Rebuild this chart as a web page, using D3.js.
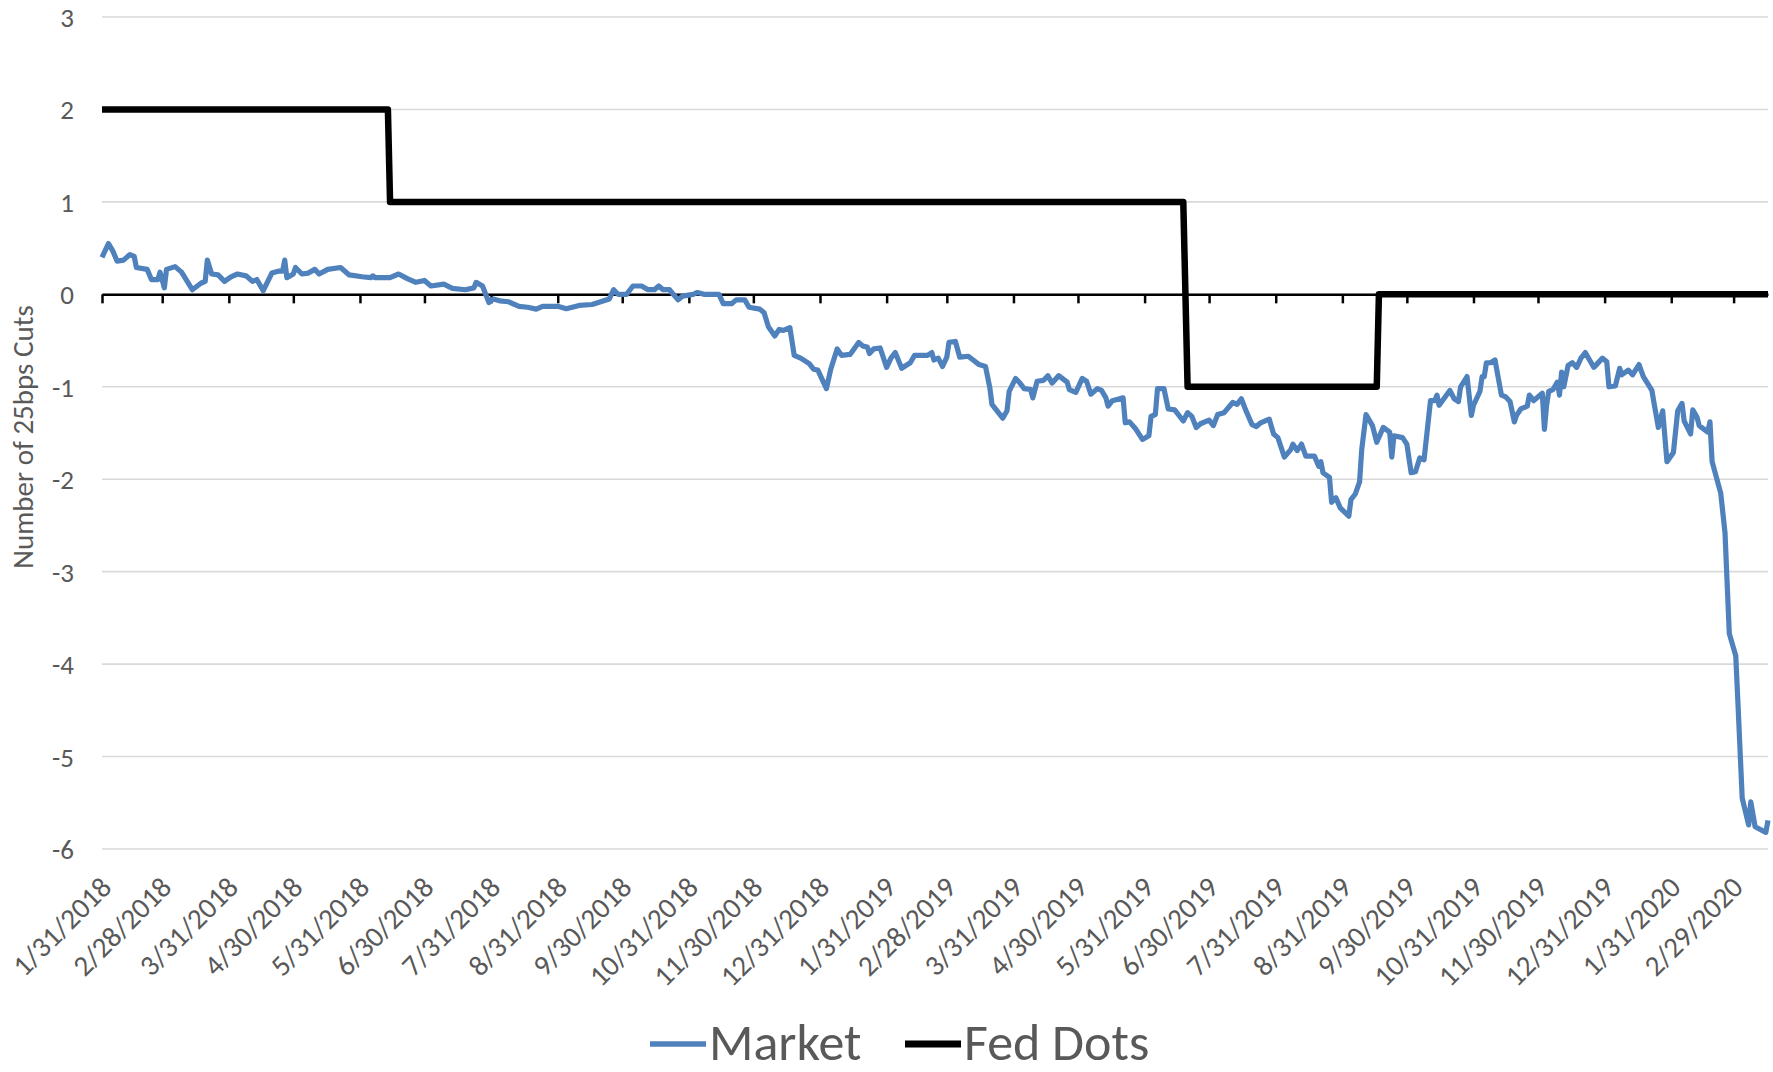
<!DOCTYPE html>
<html lang="en">
<head>
<meta charset="utf-8">
<title>Market vs Fed Dots</title>
<script src="https://cdn.jsdelivr.net/npm/d3@7"></script>
<style>
  body { margin: 0; background: #fff; }
  svg text { font-family: Carlito, Calibri, "Open Sans", sans-serif; fill: #595959; }
</style>
</head>
<body>
<script>
// x axis labels (month ends)
var tickLabels = ["1/31/2018","2/28/2018","3/31/2018","4/30/2018","5/31/2018","6/30/2018",
  "7/31/2018","8/31/2018","9/30/2018","10/31/2018","11/30/2018","12/31/2018",
  "1/31/2019","2/28/2019","3/31/2019","4/30/2019","5/31/2019","6/30/2019",
  "7/31/2019","8/31/2019","9/30/2019","10/31/2019","11/30/2019","12/31/2019",
  "1/31/2020","2/29/2020"];
var yTicks = [3, 2, 1, 0, -1, -2, -3, -4, -5, -6];

// Market implied number of 25bp cuts
var marketDates = [
  "2018-01-31","2018-02-03","2018-02-05","2018-02-07","2018-02-10","2018-02-13","2018-02-15","2018-02-16","2018-02-21","2018-02-23","2018-02-26","2018-02-27",
  "2018-03-01","2018-03-02","2018-03-06","2018-03-09","2018-03-14","2018-03-18","2018-03-20","2018-03-21","2018-03-23","2018-03-26","2018-03-29",
  "2018-04-01","2018-04-04","2018-04-08","2018-04-11","2018-04-13","2018-04-16","2018-04-20","2018-04-23","2018-04-25","2018-04-26","2018-04-27","2018-04-30",
  "2018-05-01","2018-05-04","2018-05-07","2018-05-10","2018-05-12","2018-05-16","2018-05-22","2018-05-26",
  "2018-06-01","2018-06-05","2018-06-06","2018-06-07","2018-06-14","2018-06-18","2018-06-22","2018-06-26","2018-06-30",
  "2018-07-03","2018-07-09","2018-07-13","2018-07-19","2018-07-23","2018-07-24","2018-07-27","2018-07-30",
  "2018-08-01","2018-08-04","2018-08-08","2018-08-13","2018-08-17","2018-08-21","2018-08-24","2018-08-26","2018-08-31",
  "2018-09-04","2018-09-10","2018-09-16","2018-09-20","2018-09-24","2018-09-26","2018-09-28",
  "2018-10-02","2018-10-05","2018-10-09","2018-10-12","2018-10-15","2018-10-17","2018-10-19","2018-10-22","2018-10-26","2018-10-28",
  "2018-11-02","2018-11-04","2018-11-07","2018-11-14","2018-11-16","2018-11-20","2018-11-22","2018-11-26","2018-11-28",
  "2018-12-03","2018-12-05","2018-12-07","2018-12-10","2018-12-12","2018-12-14","2018-12-17","2018-12-19","2018-12-22","2018-12-26","2018-12-28","2018-12-30",
  "2019-01-03","2019-01-05","2019-01-08","2019-01-10","2019-01-14","2019-01-18","2019-01-20","2019-01-22","2019-01-23","2019-01-25","2019-01-28","2019-01-31",
  "2019-02-02","2019-02-04","2019-02-07","2019-02-11","2019-02-13","2019-02-19","2019-02-21","2019-02-22","2019-02-24","2019-02-26","2019-02-28",
  "2019-03-01","2019-03-04","2019-03-06","2019-03-10","2019-03-15","2019-03-18","2019-03-20","2019-03-21","2019-03-24","2019-03-26","2019-03-28","2019-03-29",
  "2019-04-01","2019-04-03","2019-04-05","2019-04-08","2019-04-09","2019-04-11","2019-04-14","2019-04-16","2019-04-18","2019-04-21","2019-04-25","2019-04-26","2019-04-29",
  "2019-05-02","2019-05-04","2019-05-06","2019-05-09","2019-05-11","2019-05-13","2019-05-14","2019-05-16","2019-05-21","2019-05-22","2019-05-24","2019-05-27","2019-05-30",
  "2019-06-02","2019-06-03","2019-06-05","2019-06-06","2019-06-09","2019-06-11","2019-06-14","2019-06-18","2019-06-20","2019-06-22","2019-06-24","2019-06-26","2019-06-30",
  "2019-07-02","2019-07-04","2019-07-07","2019-07-11","2019-07-13","2019-07-15","2019-07-17","2019-07-20","2019-07-22","2019-07-24","2019-07-28","2019-07-30",
  "2019-08-01","2019-08-04","2019-08-07","2019-08-08","2019-08-10","2019-08-12","2019-08-14","2019-08-18","2019-08-20","2019-08-21","2019-08-22","2019-08-25","2019-08-26","2019-08-28","2019-08-30",
  "2019-09-03","2019-09-04","2019-09-06","2019-09-08","2019-09-09","2019-09-11","2019-09-14","2019-09-16","2019-09-19","2019-09-22","2019-09-23","2019-09-24","2019-09-28","2019-09-30",
  "2019-10-02","2019-10-04","2019-10-06","2019-10-08","2019-10-11","2019-10-13","2019-10-14","2019-10-15","2019-10-20","2019-10-22","2019-10-24","2019-10-25","2019-10-28","2019-10-30","2019-10-31",
  "2019-11-03","2019-11-04","2019-11-05","2019-11-06","2019-11-08","2019-11-10","2019-11-13","2019-11-15","2019-11-17","2019-11-19","2019-11-20","2019-11-22","2019-11-25","2019-11-26","2019-11-28","2019-11-29",
  "2019-12-02","2019-12-03","2019-12-04","2019-12-05","2019-12-07","2019-12-09","2019-12-10","2019-12-11","2019-12-12","2019-12-14","2019-12-16","2019-12-18","2019-12-20","2019-12-22","2019-12-24","2019-12-26","2019-12-30",
  "2020-01-01","2020-01-02","2020-01-05","2020-01-07","2020-01-08","2020-01-11","2020-01-13","2020-01-16","2020-01-18","2020-01-22","2020-01-23","2020-01-25","2020-01-27","2020-01-29",
  "2020-02-01","2020-02-03","2020-02-05","2020-02-06","2020-02-09","2020-02-10","2020-02-12","2020-02-13","2020-02-17","2020-02-18","2020-02-19","2020-02-23","2020-02-25","2020-02-27",
  "2020-03-01","2020-03-02","2020-03-04","2020-03-07","2020-03-08","2020-03-10","2020-03-15","2020-03-16"
];
var marketValues = [
  0.40,0.55,0.47,0.36,0.37,0.43,0.41,0.29,0.27,0.16,0.16,0.24,
  0.07,0.27,0.30,0.24,0.05,0.12,0.14,0.37,0.22,0.21,0.14,
  0.19,0.22,0.20,0.14,0.16,0.04,0.23,0.25,0.25,0.37,0.18,0.22,
  0.29,0.22,0.23,0.27,0.22,0.27,0.29,0.21,
  0.19,0.18,0.20,0.18,0.18,0.22,0.17,0.13,0.15,
  0.09,0.11,0.065,0.05,0.07,0.13,0.09,-0.09,
  -0.05,-0.07,-0.08,-0.13,-0.14,-0.16,-0.13,-0.13,-0.13,
  -0.155,-0.12,-0.11,-0.08,-0.05,0.05,0.0,
  0.0,0.09,0.09,0.05,0.05,0.09,0.05,0.05,-0.06,-0.02,
  0.0,0.02,0.0,0.0,-0.10,-0.10,-0.06,-0.06,-0.14,
  -0.16,-0.20,-0.35,-0.45,-0.38,-0.39,-0.36,-0.66,-0.69,-0.75,-0.81,-0.82,
  -1.02,-0.81,-0.59,-0.66,-0.65,-0.52,-0.56,-0.57,-0.64,-0.59,-0.58,-0.79,
  -0.69,-0.63,-0.80,-0.74,-0.66,-0.66,-0.63,-0.71,-0.69,-0.78,-0.68,
  -0.52,-0.51,-0.68,-0.67,-0.76,-0.78,-1.01,-1.19,-1.28,-1.34,-1.26,-1.05,
  -0.91,-0.96,-1.02,-1.03,-1.12,-0.94,-0.93,-0.88,-0.96,-0.88,-0.95,-1.03,-1.06,
  -0.91,-0.94,-1.08,-1.02,-1.04,-1.12,-1.21,-1.15,-1.12,-1.39,-1.38,-1.46,-1.57,
  -1.53,-1.32,-1.30,-1.02,-1.02,-1.24,-1.25,-1.37,-1.28,-1.32,-1.44,-1.40,-1.36,
  -1.42,-1.30,-1.28,-1.17,-1.19,-1.13,-1.25,-1.41,-1.43,-1.39,-1.35,-1.51,
  -1.55,-1.76,-1.68,-1.62,-1.69,-1.62,-1.75,-1.75,-1.86,-1.81,-1.93,-1.98,-2.25,-2.20,-2.31,
  -2.40,-2.22,-2.16,-2.03,-1.68,-1.30,-1.42,-1.60,-1.44,-1.49,-1.76,-1.53,-1.55,-1.62,
  -1.93,-1.92,-1.77,-1.79,-1.15,-1.15,-1.09,-1.20,-1.04,-1.13,-1.16,-1.00,-0.89,-1.31,-1.20,
  -1.05,-0.89,-0.89,-0.74,-0.74,-0.71,-1.09,-1.11,-1.16,-1.38,-1.31,-1.24,-1.21,-1.09,-1.15,-1.13,
  -1.07,-1.46,-1.20,-1.05,-1.03,-0.95,-1.09,-0.84,-1.00,-0.77,-0.74,-0.79,-0.69,-0.63,-0.71,-0.79,-0.69,
  -0.73,-1.00,-0.99,-0.80,-0.87,-0.82,-0.87,-0.76,-0.89,-1.04,-1.18,-1.44,-1.26,-1.81,
  -1.71,-1.26,-1.18,-1.37,-1.51,-1.25,-1.33,-1.42,-1.49,-1.38,-1.81,-2.15,-2.58,-3.67,
  -3.91,-4.41,-5.45,-5.74,-5.49,-5.76,-5.82,-5.69
];

// Fed dots (median projected cuts) - step changes
var fedDates = ["2018-01-31","2018-06-13","2018-06-14","2019-06-18","2019-06-20","2019-09-16","2019-09-17","2020-03-16"];
var fedValues = [2, 2, 1, 1, -1, -1, 0, 0];

var w = 1773, h = 1072;
var plotLeft = 102, plotRight = 1768, plotTop = 17, plotBottom = 849;

var parseIso = d3.timeParse("%Y-%m-%d");
var parseTick = d3.timeParse("%m/%d/%Y");

var market = marketDates.map(function (d, i) { return { date: parseIso(d), value: marketValues[i] }; });
var fed = fedDates.map(function (d, i) { return { date: parseIso(d), value: fedValues[i] }; });
var tickDates = tickLabels.map(parseTick);

var x = d3.scaleTime()
  .domain([parseIso("2018-01-31"), parseIso("2020-03-16")])
  .range([plotLeft, plotRight]);
var y = d3.scaleLinear().domain([-6, 3]).range([plotBottom, plotTop]);

var svg = d3.select("body").append("svg")
  .attr("width", w).attr("height", h);

// horizontal gridlines
svg.append("g").selectAll("line")
  .data(yTicks)
  .enter().append("line")
  .attr("x1", plotLeft).attr("x2", plotRight)
  .attr("y1", function (d) { return y(d); })
  .attr("y2", function (d) { return y(d); })
  .attr("stroke", "#d9d9d9")
  .attr("stroke-width", 1.6);

// y axis labels (plain hyphen for negatives, like Excel)
var yAxis = d3.axisLeft(y).tickValues(yTicks).tickSize(0).tickPadding(0)
  .tickFormat(function (d) { return String(d); });
var gy = svg.append("g").attr("transform", "translate(74,0)").call(yAxis);
gy.select(".domain").remove();
gy.selectAll("text").attr("font-size", 27).attr("font-family", null).attr("dy", "0.35em").style("fill", "#595959");

// y axis title
svg.append("text")
  .attr("transform", "translate(33,437) rotate(-90)")
  .attr("text-anchor", "middle")
  .attr("font-size", 29)
  .text("Number of 25bps Cuts");

// x axis on the zero line
var xAxis = d3.axisBottom(x).tickValues(tickDates).tickSize(9).tickSizeOuter(0).tickFormat("");
var gx = svg.append("g").attr("transform", "translate(0," + y(0) + ")").call(xAxis);
gx.select(".domain").attr("stroke", "#000").attr("stroke-width", 2.5);
gx.selectAll(".tick line").attr("stroke", "#000").attr("stroke-width", 2.5);

// rotated month-end labels at the bottom
svg.append("g").selectAll("text")
  .data(tickDates)
  .enter().append("text")
  .attr("transform", function (d) { return "translate(" + (x(d) + 4) + ",882) rotate(-45)"; })
  .attr("text-anchor", "end")
  .attr("dominant-baseline", "central")
  .attr("font-size", 29)
  .text(function (d, i) { return tickLabels[i]; });

var line = d3.line()
  .x(function (d) { return x(d.date); })
  .y(function (d) { return y(d.value); });

svg.append("path")
  .datum(market)
  .attr("fill", "none")
  .attr("stroke", "#4f81bd")
  .attr("stroke-width", 5.2)
  .attr("stroke-linejoin", "round")
  .attr("d", line);

svg.append("path")
  .datum(fed)
  .attr("fill", "none")
  .attr("stroke", "#000")
  .attr("stroke-width", 6.5)
  .attr("stroke-linejoin", "round")
  .attr("d", line);

// legend
var legend = [
  { name: "Market", color: "#4f81bd", width: 5.2, x: 650 },
  { name: "Fed Dots", color: "#000", width: 6.5, x: 905 }
];
var lg = svg.append("g").selectAll("g")
  .data(legend)
  .enter().append("g")
  .attr("transform", function (d) { return "translate(" + d.x + ",0)"; });
lg.append("line")
  .attr("x1", 0).attr("x2", 56)
  .attr("y1", 1044).attr("y2", 1044)
  .attr("stroke", function (d) { return d.color; })
  .attr("stroke-width", function (d) { return d.width + 0.5; });
lg.append("text")
  .attr("x", 59).attr("y", 1060)
  .attr("font-size", 52)
  .text(function (d) { return d.name; });
</script>
</body>
</html>
